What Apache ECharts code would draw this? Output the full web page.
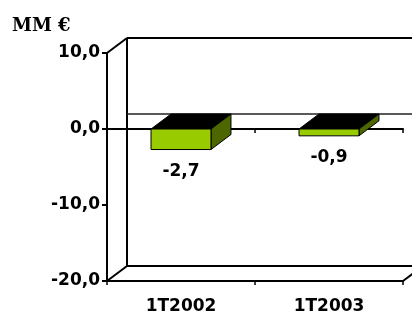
<!DOCTYPE html>
<html><head><meta charset="utf-8">
<script src="https://cdn.jsdelivr.net/npm/echarts@6/dist/echarts.min.js"></script>
<style>html,body{margin:0;padding:0;background:#fff}#c{width:412px;height:316px}</style>
</head><body><div id="c"></div>
<script>
// ---- data ----
const categories = ['1T2002', '1T2003'];
const values = [-2.7, -0.9];
const yMin = -20, yMax = 10, yInterval = 10;
const unitTitle = 'MM €';

// ---- style ----
const DX = 20, DY = -15;
const FONT = '"DejaVu Sans", sans-serif';
const fmt = v => Number(v).toFixed(1).replace('.', ',');

function renderFrame(params, api) {
  const cs = params.coordSys;
  const L = cs.x, T = cs.y, R = cs.x + cs.width, B = cs.y + cs.height;
  const Z = api.coord([0, 0])[1];
  const ln = (x1, y1, x2, y2, c, w) => ({ type: 'line', shape: { x1, y1, x2, y2 }, style: { stroke: c, lineWidth: w } });
  return {
    type: 'group', children: [
      ln(L + DX, T + DY, L + DX, B + DY, '#000', 2),
      ln(L + DX, T + DY, R + DX + 10, T + DY, '#000', 2),
      ln(L + DX, B + DY, R + DX + 10, B + DY, '#000', 2),
      ln(L + DX, Z + DY, R + DX + 10, Z + DY, '#222', 1.5),
      ln(L, T, L + DX, T + DY, '#000', 2),
      ln(L, B, L + DX, B + DY, '#000', 2),
      ln(R, B, R + DX, B + DY, '#000', 2)
    ]
  };
}

function renderBar(params, api) {
  const i = api.value(0), v = api.value(1);
  const top = api.coord([i, 0]);
  const bot = api.coord([i, v]);
  const w = api.size([1, 0])[0] * 0.405;
  const x0 = top[0] - w / 2, x1 = top[0] + w / 2;
  const y0 = Math.min(top[1], bot[1]), y1 = Math.max(top[1], bot[1]);
  return {
    type: 'group', children: [
      { type: 'polygon', shape: { points: [[x0, y0], [x0 + DX, y0 + DY], [x1 + DX, y0 + DY], [x1, y0]] }, style: { fill: '#000', stroke: '#000', lineWidth: 1 } },
      { type: 'polygon', shape: { points: [[x1, y0], [x1 + DX, y0 + DY], [x1 + DX, y1 + DY], [x1, y1]] }, style: { fill: '#4d6600', stroke: '#000', lineWidth: 1 } },
      { type: 'rect', shape: { x: x0, y: y0, width: w, height: y1 - y0 }, style: { fill: '#99cc00', stroke: '#000', lineWidth: 1 } },
      { type: 'text', style: { text: fmt(v), x: top[0], y: y1 + 22, align: 'center', verticalAlign: 'middle', fontSize: 17, fontWeight: 'bold', fontFamily: FONT, fill: '#000' } }
    ]
  };
}

const chart = echarts.init(document.getElementById('c'), null, { renderer: 'canvas' });
chart.setOption({
  animation: false,
  backgroundColor: '#fff',
  title: {
    text: unitTitle, left: 12, top: 17, padding: 0,
    textStyle: { fontFamily: '"DejaVu Serif", serif', fontWeight: 'bold', fontSize: 18, color: '#000' }
  },
  grid: { left: 107, right: 9, top: 53, bottom: 35, containLabel: false },
  xAxis: [
    {
      type: 'category', data: categories, position: 'bottom',
      axisLine: { onZero: false, lineStyle: { color: '#000', width: 2 } },
      axisTick: { show: true, length: 4, interval: 0, lineStyle: { color: '#000', width: 1.5 } },
      axisLabel: { margin: 17, fontFamily: FONT, fontWeight: 'bold', fontSize: 17, color: '#000', interval: 0 },
      splitLine: { show: false }
    },
    {
      type: 'category', data: categories, position: 'bottom',
      axisLine: { onZero: true, lineStyle: { color: '#000', width: 2 } },
      axisTick: { show: true, length: 4, interval: 0, lineStyle: { color: '#000', width: 1.5 } },
      axisLabel: { show: false },
      splitLine: { show: false }
    }
  ],
  yAxis: {
    type: 'value', min: yMin, max: yMax, interval: yInterval,
    axisLine: { show: true, onZero: false, lineStyle: { color: '#000', width: 2 } },
    axisTick: { show: true, length: 5, lineStyle: { color: '#000', width: 2 } },
    axisLabel: { margin: 7, formatter: fmt, fontFamily: FONT, fontWeight: 'bold', fontSize: 17, color: '#000' },
    splitLine: { show: false }
  },
  series: [
    { type: 'custom', name: 'frame', xAxisIndex: 0, clip: false, z: 1, silent: true, renderItem: renderFrame, data: [[0, 0]] },
    { type: 'custom', name: 'bars', xAxisIndex: 0, clip: false, z: 5, silent: true, renderItem: renderBar,
      data: categories.map((c, i) => [i, values[i]]) }
  ]
});
</script>
</body></html>
